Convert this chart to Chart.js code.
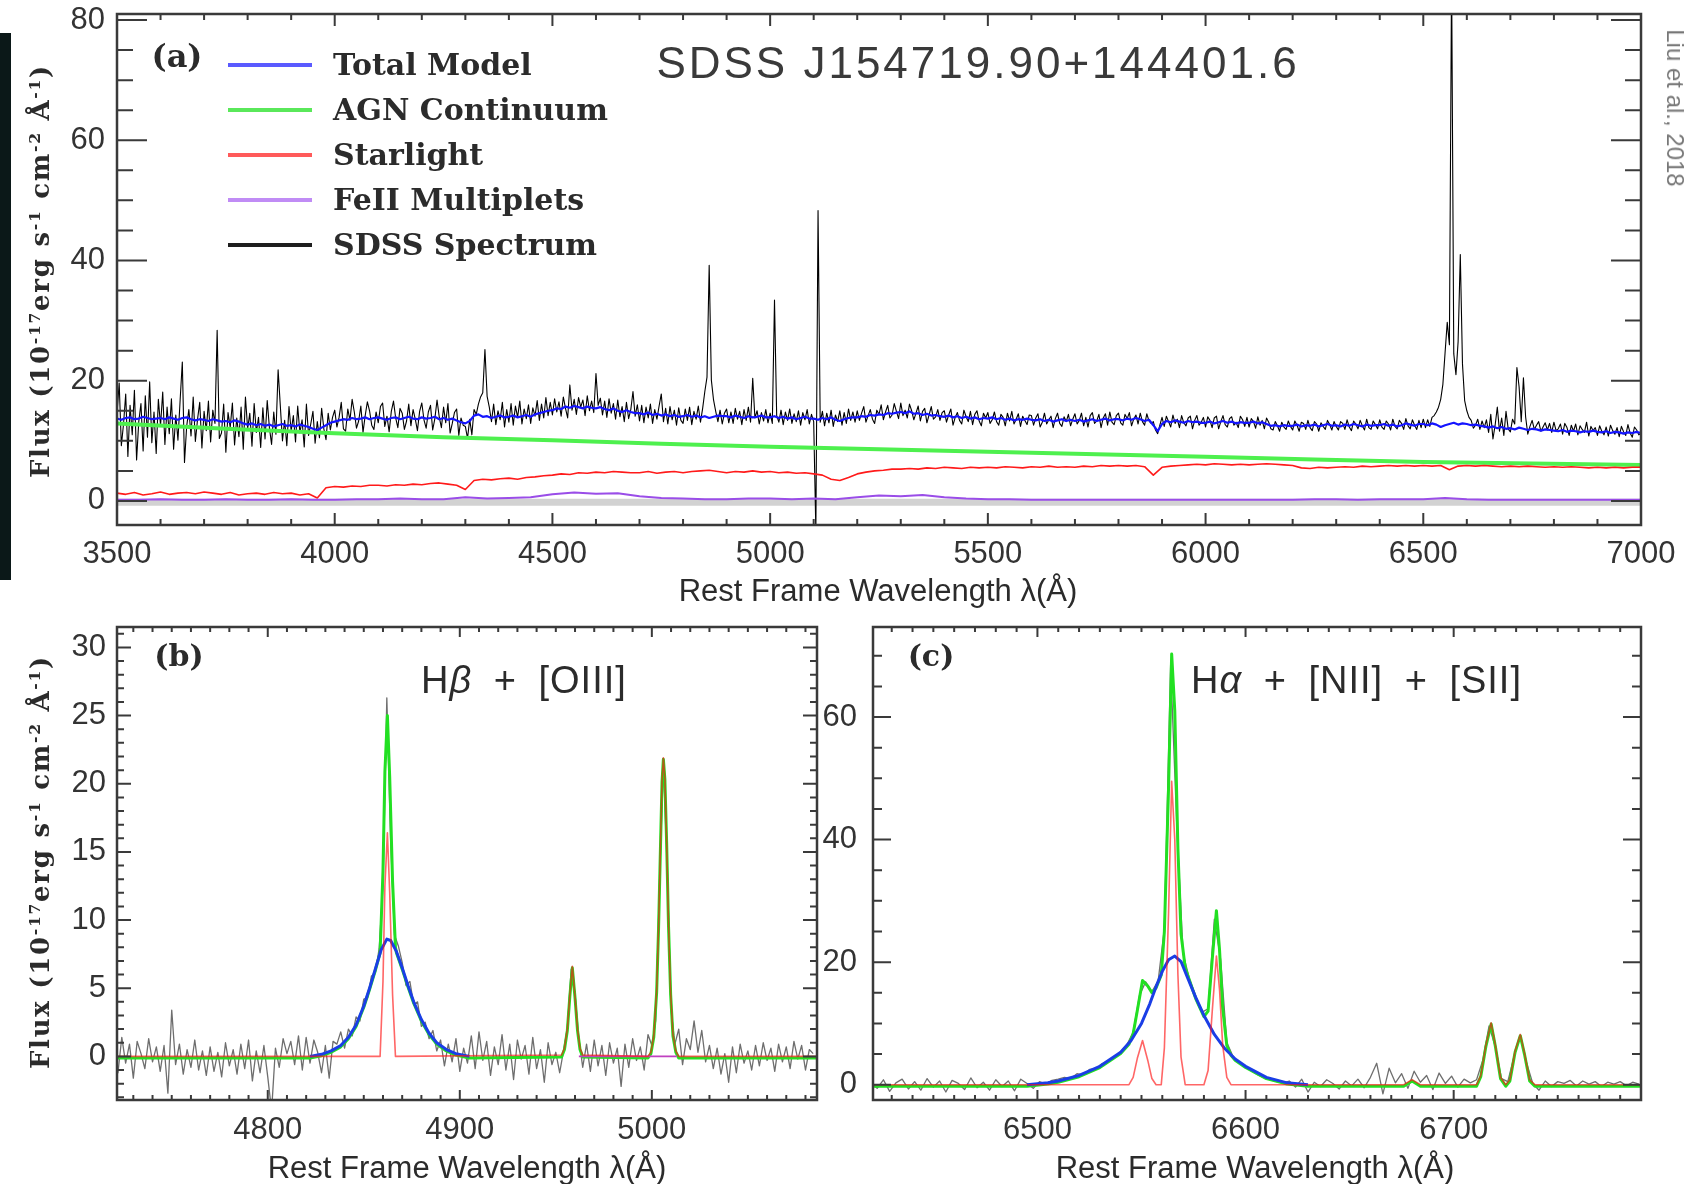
<!DOCTYPE html>
<html>
<head>
<meta charset="utf-8">
<title>SDSS J154719.90+144401.6</title>
<script src="https://cdn.jsdelivr.net/npm/chart.js@4.4.1/dist/chart.umd.min.js"></script>
<style>
  body { margin: 0; background: #fff; }
  #page { position: relative; width: 1701px; height: 1184px; overflow: hidden; background: #fff; }
  canvas { position: absolute; }
  .lbl { position: absolute; white-space: nowrap; line-height: 1; color: #2b2b2b; transform: translate(-50%, -50%); }
  .serif { font-family: "DejaVu Serif", serif; font-weight: bold; }
  .sans { font-family: "Liberation Sans", Arial, sans-serif; }
  .key { position: absolute; left: 228px; width: 84px; height: 4px; }
  .keytxt { font-size: 30px; transform: translate(0, -50%); }
  .ytitle { font-size: 26px; letter-spacing: 1.7px; transform: translate(-50%, -50%) rotate(-90deg); }
  .ytitle sup { font-size: 60%; vertical-align: 0.55em; }
  .xtitle { font-size: 31px; }
  .line { font-size: 38px; letter-spacing: 1px; word-spacing: 10px; transform: translate(0, -50%); }
</style>
</head>
<body>
<div id="page">
  <div style="position:absolute;left:0;top:33px;width:11px;height:547px;background:#0b1818"></div>
  <canvas id="chartA" width="1701" height="610" style="left:0;top:0"></canvas>
  <canvas id="chartB" width="850" height="574" style="left:0;top:610px"></canvas>
  <canvas id="chartC" width="911" height="574" style="left:790px;top:610px"></canvas>

  <div class="lbl serif" style="left:177px;top:56px;font-size:32px">(a)</div>
  <div class="key" style="top:63px;background:#5a5aff"></div>
  <div class="key" style="top:108px;background:#5ae85a"></div>
  <div class="key" style="top:153px;background:#ff5a5a"></div>
  <div class="key" style="top:198px;background:#c08cf5"></div>
  <div class="key" style="top:243px;background:#1e1e1e"></div>
  <div class="lbl serif keytxt" style="left:333px;top:65px">Total Model</div>
  <div class="lbl serif keytxt" style="left:333px;top:110px">AGN Continuum</div>
  <div class="lbl serif keytxt" style="left:333px;top:155px">Starlight</div>
  <div class="lbl serif keytxt" style="left:333px;top:200px">FeII Multiplets</div>
  <div class="lbl serif keytxt" style="left:333px;top:245px">SDSS Spectrum</div>
  <div class="lbl sans" style="left:978px;top:63px;font-size:44px;letter-spacing:3px;color:#3a3a3a">SDSS J154719.90+144401.6</div>
  <div class="lbl sans" style="left:1675px;top:108px;font-size:24px;color:#777;transform:translate(-50%,-50%) rotate(90deg)">Liu et al., 2018</div>
  <div class="lbl serif ytitle" style="left:40px;top:271px">Flux (10<sup>-17</sup>erg s<sup>-1</sup> cm<sup>-2</sup> Å<sup>-1</sup>)</div>
  <div class="lbl sans xtitle" style="left:878px;top:590px">Rest Frame Wavelength λ(Å)</div>

  <div class="lbl serif" style="left:179px;top:656px;font-size:30px">(b)</div>
  <div class="lbl serif" style="left:931px;top:656px;font-size:30px">(c)</div>
  <div class="lbl sans line" style="left:421px;top:680px">H<i>β</i> + [OIII]</div>
  <div class="lbl sans line" style="left:1191px;top:680px">H<i>α</i> + [NII] + [SII]</div>
  <div class="lbl serif ytitle" style="left:40px;top:862px">Flux (10<sup>-17</sup>erg s<sup>-1</sup> cm<sup>-2</sup> Å<sup>-1</sup>)</div>
  <div class="lbl sans xtitle" style="left:467px;top:1167px">Rest Frame Wavelength λ(Å)</div>
  <div class="lbl sans xtitle" style="left:1255px;top:1167px">Rest Frame Wavelength λ(Å)</div>
</div>

<script>
// =========================
// PANEL (a) DATA  (rest-frame wavelength in Å, flux in 1e-17 erg/s/cm2/Å)
// =========================

const aXTicks = [3500, 4000, 4500, 5000, 5500, 6000, 6500, 7000];
const aYTicks = [0, 20, 40, 60, 80];

// SDSS spectrum, sampled every 5 Å from 3500 Å (one row = 100 Å)
const aSpecStart = 3500, aSpecStep = 5;
const aSpectrum = [
  14.5, 19.6, 9.2, 12.8, 17.8, 7.4, 15.9, 11.0, 18.4, 6.8, 13.2, 16.2, 8.3, 17.5, 10.6, 19.8, 9.7, 14.8, 7.9, 16.9,
  12.5, 18.1, 9.4, 15.6, 11.2, 17.0, 8.6, 14.3, 10.1, 16.8, 23.1, 6.4, 12.4, 15.2, 10.8, 17.3, 9.9, 13.6, 16.4, 8.8,
  14.9, 11.7, 16.6, 9.8, 15.1, 12.9, 28.4, 10.4, 11.3, 16.1, 8.1, 14.7, 12.2, 16.3, 9.3, 13.8, 10.7, 15.6, 8.6, 17.3,
  12.0, 14.6, 9.1, 16.2, 11.4, 13.9, 8.9, 15.5, 10.3, 16.7, 12.2, 9.4, 14.8, 11.1, 21.8, 15.9, 10.0, 13.4, 9.2, 15.7,
  11.6, 14.2, 9.8, 15.8, 11.3, 13.5, 9.0, 16.1, 10.9, 12.8, 14.9, 9.6, 13.2, 10.5, 15.4, 12.0, 10.2, 14.6, 11.8, 13.9,
  15.1, 12.3, 13.9, 16.4, 12.0, 11.6, 15.3, 13.4, 16.9, 14.8, 12.1, 13.3, 15.8, 11.4, 14.2, 16.5, 15.0, 12.6, 11.9, 14.8,
  13.0, 15.7, 16.3, 12.4, 14.1, 11.5, 14.9, 16.6, 13.8, 12.2, 15.4, 14.6, 11.9, 13.3, 16.1, 12.5, 15.2, 13.6, 11.7, 14.9,
  16.3, 13.5, 12.1, 14.8, 15.9, 11.8, 13.7, 16.8, 14.0, 12.2, 15.6, 13.0, 16.2, 11.3, 12.9, 14.7, 15.3, 10.9, 13.8, 12.6,
  12.4, 10.4, 13.6, 11.0, 15.2, 14.4, 16.1, 17.3, 18.0, 25.2, 17.4, 15.6, 13.2, 16.1, 12.7, 15.0, 13.5, 16.4, 12.3, 15.2,
  13.1, 16.2, 12.6, 15.8, 13.9, 16.6, 12.8, 15.3, 13.7, 16.0, 12.9, 15.5, 14.1, 16.7, 13.4, 16.1, 13.8, 17.2, 14.2, 16.4,
  14.3, 17.0, 14.8, 16.5, 14.1, 17.3, 15.4, 13.8, 19.3, 15.1, 16.9, 14.4, 17.2, 15.6, 16.8, 14.2, 17.5, 15.0, 16.6, 14.7,
  21.2, 15.9, 17.1, 14.3, 16.6, 13.9, 17.0, 14.6, 16.2, 13.6, 16.8, 14.0, 15.7, 13.2, 16.4, 13.7, 15.2, 18.2, 14.1, 16.0,
  13.3, 15.9, 13.0, 15.6, 13.8, 16.1, 12.9, 15.2, 13.6, 15.8, 17.8, 13.2, 15.4, 12.8, 15.7, 13.5, 15.1, 12.6, 15.5, 13.4,
  12.9, 15.3, 13.4, 15.6, 12.7, 14.9, 13.6, 15.8, 13.1, 15.4, 18.2, 20.6, 39.2, 20.1, 16.8, 14.9, 13.2, 15.1, 12.8, 14.6,
  15.3, 13.0, 14.8, 12.9, 15.4, 13.6, 14.9, 12.7, 15.2, 13.4, 15.6, 13.1, 20.4, 13.8, 15.0, 12.8, 14.7, 13.3, 15.2, 13.0,
  14.6, 12.9, 33.4, 14.2, 13.1, 15.1, 12.7, 14.8, 13.4, 15.3, 12.9, 14.5, 13.2, 15.0, 12.6, 14.7, 13.5, 15.2, 12.8, 14.4,
  13.2, -5.0, 48.3, 13.1, 14.9, 12.5, 14.6, 13.0, 15.1, 12.4, 14.3, 13.2, 15.0, 12.6, 14.7, 12.9, 15.3, 13.4, 14.8, 13.1,
  15.0, 13.4, 14.6, 15.7, 13.1, 14.2, 15.2, 13.6, 12.9, 15.1, 14.4, 16.0, 13.5, 14.8, 15.9, 13.8, 14.3, 16.2, 14.9, 13.7,
  16.3, 14.2, 15.1, 13.8, 16.1, 15.0, 13.5, 14.6, 15.8, 13.3, 14.9, 15.4, 13.0, 14.3, 15.7, 13.6, 14.0, 15.2, 13.4, 14.7,
  15.0, 13.1, 14.3, 15.3, 12.6, 13.9, 14.7, 13.4, 12.8, 15.1, 14.0, 13.2, 14.9, 12.7, 14.4, 15.0, 13.3, 12.5, 14.6, 13.8,
  14.7, 12.9, 13.5, 14.8, 13.2, 12.6, 14.4, 13.9, 12.5, 14.6, 13.3, 14.9, 12.8, 13.6, 14.5, 12.4, 14.1, 13.4, 12.7, 14.3,
  14.2, 12.6, 13.8, 14.5, 12.3, 13.1, 14.6, 12.8, 13.5, 14.1, 12.2, 13.7, 14.6, 12.9, 12.4, 14.0, 13.2, 14.4, 12.5, 13.6,
  14.5, 12.8, 13.4, 14.6, 12.5, 13.9, 12.3, 14.2, 14.7, 12.9, 13.3, 14.4, 12.2, 13.8, 14.5, 12.6, 14.8, 13.1, 12.7, 14.2,
  14.6, 13.0, 12.6, 14.4, 13.7, 14.7, 12.5, 13.6, 14.3, 12.8, 14.6, 13.2, 12.6, 14.5, 13.3, 12.9, 13.2, 11.8, 11.2, 12.6,
  13.9, 12.4, 14.1, 13.2, 12.3, 14.3, 12.9, 13.6, 12.2, 14.2, 13.0, 12.5, 13.8, 14.1, 12.0, 13.4, 14.2, 12.6, 13.1, 13.9,
  12.3, 14.0, 13.4, 12.2, 13.8, 14.1, 12.0, 13.2, 14.2, 12.7, 12.3, 13.7, 14.0, 12.6, 13.1, 12.2, 14.1, 13.5, 12.4, 13.9,
  12.3, 13.7, 13.2, 12.1, 14.0, 12.6, 13.4, 12.0, 13.8, 13.1, 12.0, 11.8, 13.2, 12.5, 11.6, 13.1, 12.3, 11.9, 13.3, 12.4,
  11.8, 13.3, 12.6, 11.6, 13.1, 12.9, 11.9, 13.4, 12.2, 11.7, 13.2, 12.8, 11.6, 13.0, 12.4, 11.9, 13.4, 12.7, 11.8, 13.2,
  12.4, 11.8, 13.2, 12.9, 11.9, 13.5, 12.3, 11.7, 13.3, 12.8, 12.0, 13.4, 12.5, 11.8, 13.6, 12.2, 11.9, 13.3, 12.7, 12.0,
  13.5, 12.3, 11.9, 13.3, 12.8, 11.8, 13.6, 12.4, 12.0, 13.4, 12.9, 11.9, 13.7, 12.5, 12.0, 13.5, 12.6, 11.9, 13.4, 12.2,
  13.6, 12.2, 13.5, 12.4, 13.9, 14.2, 14.8, 15.6, 16.9, 19.4, 24.6, 29.7, 26.0, 88.0, 24.5, 21.0, 26.5, 41.0, 22.8, 16.7,
  15.0, 13.9, 13.4, 12.1, 12.6, 13.6, 11.9, 13.3, 12.2, 13.5, 11.4, 14.4, 10.3, 12.6, 15.6, 11.6, 13.8, 10.9, 14.9, 12.0,
  11.5, 13.6, 12.8, 22.2, 19.0, 13.2, 20.5, 14.0, 11.1, 12.4, 13.4, 11.9, 12.6, 13.2, 11.6, 12.3, 13.0, 11.8, 12.9, 11.4,
  13.1, 11.7, 12.0, 12.8, 11.1, 12.9, 12.2, 10.9, 12.6, 11.6, 12.8, 11.0, 12.5, 11.9, 11.4, 13.1, 10.8, 12.4, 11.7, 12.2,
  10.9, 12.5, 11.6, 11.0, 12.3, 10.8, 12.6, 11.7, 11.1, 12.2, 10.7, 12.4, 11.5, 10.9, 12.7, 11.3, 10.6, 12.3, 11.8, 11.0,
  11.3
];

// total model, every 10 Å from 3500 Å
const aModelStart = 3500, aModelStep = 10;
const aTotalModel = [
  13.7, 13.5, 13.8, 13.9, 13.6, 13.7, 14.0, 13.8, 13.6, 13.7,
  13.8, 13.6, 13.9, 13.7, 13.5, 13.8, 13.9, 13.6, 13.4, 13.6,
  13.5, 13.3, 13.6, 13.4, 13.2, 13.3, 13.1, 13.4, 13.2, 12.9,
  12.7, 12.9, 12.6, 12.8, 12.5, 12.7, 12.4, 12.6, 12.8, 12.5,
  12.6, 12.4, 12.7, 12.5, 12.3, 12.0, 11.8, 12.2, 12.6, 13.0,
  13.2, 13.4, 13.6, 13.5, 13.8, 13.6, 13.7, 13.9, 13.6, 13.8,
  13.9, 13.7, 13.5, 13.8, 13.9, 13.6, 13.8, 14.0, 13.7, 13.6,
  13.9, 13.7, 13.8, 14.0, 13.6, 13.8, 13.5, 13.7, 13.4, 13.1,
  12.9, 13.3, 14.2, 14.4, 14.0, 14.1, 13.8, 14.0, 14.2, 13.9,
  14.0, 14.2, 13.9, 14.1, 14.3, 14.0, 14.4, 14.6, 14.8, 15.0,
  15.1, 15.4, 15.3, 15.7, 15.5, 15.8, 15.6, 15.4, 15.7, 15.5,
  15.4, 15.6, 15.3, 15.1, 15.4, 15.0, 14.8, 15.1, 14.8, 14.6,
  14.6, 14.4, 14.7, 14.3, 14.5, 14.2, 14.4, 14.1, 14.3, 14.0,
  14.1, 14.3, 14.0, 14.2, 13.9, 14.1, 13.8, 14.0, 14.2, 14.1,
  14.1, 13.9, 14.2, 14.0, 13.8, 14.1, 13.9, 14.0, 14.2, 13.9,
  13.9, 14.1, 13.8, 14.0, 13.7, 13.9, 13.6, 13.8, 14.0, 13.7,
  13.7, 13.5, 13.8, 13.6, 13.9, 13.5, 13.3, 13.6, 13.8, 13.9,
  13.9, 14.1, 14.0, 14.3, 14.2, 14.4, 14.3, 14.6, 14.5, 14.7,
  14.8, 14.6, 14.9, 14.5, 14.6, 14.3, 14.5, 14.2, 14.3, 14.1,
  14.0, 14.2, 13.9, 14.1, 13.8, 14.0, 13.7, 13.9, 13.6, 13.8,
  13.7, 13.9, 13.6, 13.8, 13.5, 13.7, 13.4, 13.6, 13.5, 13.7,
  13.5, 13.4, 13.6, 13.3, 13.5, 13.2, 13.4, 13.6, 13.3, 13.5,
  13.3, 13.5, 13.2, 13.4, 13.6, 13.3, 13.5, 13.7, 13.4, 13.6,
  13.6, 13.4, 13.7, 13.5, 13.8, 13.6, 13.3, 13.5, 12.6, 11.6,
  12.8, 13.3, 13.1, 13.4, 13.2, 13.0, 13.3, 13.1, 13.2, 13.0,
  13.0, 13.2, 12.9, 13.1, 13.3, 13.0, 13.2, 12.9, 13.1, 13.0,
  13.0, 13.2, 12.9, 13.1, 12.8, 12.5, 12.6, 12.4, 12.6, 12.5,
  12.5, 12.7, 12.4, 12.6, 12.5, 12.7, 12.4, 12.6, 12.8, 12.5,
  12.6, 12.4, 12.7, 12.5, 12.8, 12.6, 12.4, 12.7, 12.5, 12.6,
  12.6, 12.8, 12.5, 12.7, 12.4, 12.6, 12.9, 12.7, 12.5, 12.8,
  12.8, 12.6, 12.9, 12.7, 12.3, 12.6, 12.8, 13.0, 12.7, 12.9,
  12.8, 12.6, 12.7, 12.5, 12.4, 12.2, 12.4, 12.1, 12.3, 12.0,
  12.1, 11.9, 12.2, 12.0, 11.8, 12.0, 11.9, 11.7, 11.9, 11.8,
  11.7, 11.6, 11.8, 11.5, 11.7, 11.6, 11.4, 11.6, 11.5, 11.7,
  11.5, 11.4, 11.6, 11.3, 11.5, 11.4, 11.2, 11.4, 11.3, 11.5,
  11.3
];

// AGN power-law continuum
const aAgnWave = [3500, 3750, 4000, 4250, 4500, 4750, 5000, 5250, 5500, 5750, 6000, 6250, 6500, 6750, 7000];
const aAgnFlux = [12.9, 12.0, 11.25, 10.6, 10.1, 9.5, 9.0, 8.6, 8.2, 7.75, 7.35, 6.9, 6.5, 6.25, 6.0];

// host starlight, every 20 Å from 3500 Å
const aStarStart = 3500, aStarStep = 20;
const aStarlight = [
  1.3, 1.1, 1.4, 1.0, 1.2, 1.5, 1.1, 1.3, 1.4, 1.2,
  1.5, 1.3, 1.1, 1.4, 1.0, 1.2, 1.3, 1.1, 1.4, 1.2,
  1.3, 1.0, 1.2, 0.5, 2.2, 2.4, 2.3, 2.5, 2.4, 2.6,
  2.6, 2.5, 2.7, 2.6, 2.8, 2.7, 2.9, 3.0, 2.8, 2.6,
  1.9, 3.4, 3.6, 3.5, 3.7, 3.8, 3.6, 3.9, 4.0, 4.2,
  4.3, 4.5, 4.4, 4.7, 4.6, 4.8, 4.7, 4.9, 4.8, 4.7,
  4.7, 4.9, 4.6, 4.8, 4.9, 4.7, 4.9, 5.0, 5.1, 4.9,
  4.7, 4.9, 4.8, 5.0, 4.8, 4.9, 4.7, 4.8, 4.6, 4.7,
  4.5, 4.3, 3.6, 3.4, 3.9, 4.5, 4.8, 5.0, 5.1, 5.3,
  5.3, 5.4, 5.3, 5.5, 5.4, 5.6, 5.5, 5.4, 5.6, 5.5,
  5.6, 5.5, 5.7, 5.6, 5.5, 5.7, 5.6, 5.8, 5.6, 5.7,
  5.6, 5.8, 5.7, 5.9, 5.8, 5.9, 5.8, 5.9, 5.7, 4.3,
  5.6, 5.8, 5.9, 6.0, 6.1, 6.0, 6.2, 6.1, 6.0, 6.1,
  6.0, 6.1, 6.2, 6.1, 6.0, 5.9, 5.5, 5.4, 5.6, 5.5,
  5.6, 5.7, 5.6, 5.8, 5.7, 5.8, 5.9, 5.8, 5.9, 5.8,
  5.9, 5.8, 5.9, 5.2, 5.8, 5.9, 5.8, 5.9, 5.8, 5.7,
  5.8, 5.7, 5.8, 5.7, 5.6, 5.7, 5.6, 5.7, 5.6, 5.5,
  5.6, 5.5, 5.6, 5.5, 5.6, 5.6
];

// FeII multiplets, every 50 Å from 3500 Å
const aFeStart = 3500, aFeStep = 50;
const aFeII = [
  0.2, 0.2, 0.3, 0.2, 0.2, 0.3, 0.2, 0.2, 0.3, 0.2,
  0.2, 0.3, 0.3, 0.4, 0.3, 0.3, 0.6, 0.4, 0.5, 0.6,
  1.1, 1.4, 1.2, 1.3, 0.8, 0.5, 0.4, 0.3, 0.3, 0.4,
  0.4, 0.3, 0.4, 0.3, 0.6, 0.9, 0.8, 1.0, 0.6, 0.4,
  0.3, 0.3, 0.2, 0.2, 0.2, 0.2, 0.2, 0.2, 0.2, 0.2,
  0.2, 0.2, 0.2, 0.2, 0.2, 0.3, 0.3, 0.2, 0.3, 0.3,
  0.3, 0.5, 0.3, 0.2, 0.2, 0.2, 0.2, 0.2, 0.2, 0.2,
  0.2
];

// grey zero band under the FeII curve
const aZeroWave = [3500, 7000];
const aZeroFlux = [-0.2, -0.2];


// =========================
// PANEL (b) DATA  Hβ + [OIII]
// =========================

const bXTicks = [4800, 4900, 5000];
const bYTicks = [0, 5, 10, 15, 20, 25, 30];

// continuum-subtracted spectrum, every 2 Å from 4720 Å
const bSpecStart = 4720, bSpecStep = 2;
const bSpectrum = [
  0.6, -1.2, 1.4, -0.5, 0.9, -1.6, 1.1, 0.2, -0.9, 1.3, -0.4, 0.7, -1.1, 0.8, -2.7, 3.4, -0.6, 0.9, -1.3, 0.5, -0.8, 1.2, -1.0, 0.4, -1.4,
  0.7, -1.1, 0.3, -1.5, 1.0, -0.7, 0.5, -1.3, 0.9, -0.9, 1.2, -1.8, 0.4, -1.2, 0.8, -1.5, -4.0, 0.6, -0.8, 1.3, 0.2, 1.1, -0.6, 1.5, -1.0,
  1.4, -0.5, 1.2, 0.3, -1.2, 0.8, -1.6, 1.1, 0.9, 1.8, 0.6, 2.0, 1.5, 2.9, 2.6, 4.2, 4.3, 5.9, 6.1, 7.9, 12.5, 26.3, 15.8, 8.9, 8.1,
  6.9, 5.2, 5.5, 3.8, 4.0, 2.2, 2.5, 1.3, 1.9, 0.4, 1.2, -0.7, 0.9, -0.4, 1.3, -1.1, 0.6, -0.5, 1.5, -0.9, 1.8, -0.3, 1.1, -1.4, 0.7,
  -0.6, 1.6, -1.0, 0.9, -1.7, 1.2, -0.2, 0.8, -1.3, 1.4, -0.9, 0.5, -1.9, 1.0, -0.6, 0.3, -1.2, 0.4, 2.1, 6.4, 4.6, 1.3, -0.8, 0.9, -1.1,
  1.2, -0.7, 0.8, -1.4, 1.0, -0.5, 0.6, -2.2, 0.9, -0.8, 1.3, -0.3, 0.7, -1.0, 1.6, 0.8, 2.6, 12.8, 21.5, 13.9, 3.4, 0.9, 2.0, -0.6, 1.3,
  0.5, 2.6, 0.3, 1.9, -0.4, 0.8, -0.9, 0.6, -1.3, 0.2, -1.9, 0.7, -1.2, 0.9, -0.5, 0.4, -1.0, 0.8, -0.7, 1.0, -0.3, 0.6, -1.1, 0.9, -0.4,
  0.7, -0.9, 1.1, -0.2, 0.8, -1.0, 0.5, 0.2
];

// broad Hβ component
const bBroadWave = [4822, 4828, 4833, 4838, 4842, 4846, 4850, 4853, 4856, 4859, 4862, 4864, 4867, 4870, 4873, 4876, 4880, 4884, 4888, 4893, 4898, 4905];
const bBroadFlux = [0, 0.15, 0.4, 0.8, 1.4, 2.3, 3.7, 5.0, 6.4, 7.8, 8.6, 8.5, 7.7, 6.5, 5.2, 4.0, 2.7, 1.7, 1.0, 0.5, 0.2, 0];

// narrow components (Hβ, [OIII] 4959, [OIII] 5007) on a zero baseline
const bNarrowWave = [4720, 4858.5, 4860, 4861, 4862.3, 4863.5, 4865, 4866.5,
  4953, 4954.5, 4956, 4957.3, 4958.6, 4960, 4961.3, 4962.6, 4964,
  4998, 4999.5, 5001, 5002.5, 5003.5, 5004.5, 5005.3, 5006, 5006.8, 5007.7, 5008.7, 5009.8, 5011, 5012.5, 5014, 5086];
const bNarrowFlux = [0, 0, 5.5, 12.5, 16.4, 12.0, 4.5, 0,
  0.1, 0.6, 2.0, 4.5, 6.6, 4.4, 2.0, 0.6, 0.1,
  0, 0.3, 1.5, 4.8, 9.5, 15.5, 20.2, 21.9, 20.4, 15.8, 9.6, 4.6, 1.6, 0.4, 0, 0];

// total line model
const bTotalWave = [4720, 4822, 4828, 4833, 4838, 4842, 4846, 4850, 4853, 4856, 4858.5, 4860, 4861, 4862.3, 4863.5, 4865, 4866.5,
  4867, 4870, 4873, 4876, 4880, 4884, 4888, 4893, 4898, 4905,
  4953, 4954.5, 4956, 4957.3, 4958.6, 4960, 4961.3, 4962.6, 4964,
  4998, 4999.5, 5001, 5002.5, 5003.5, 5004.5, 5005.3, 5006, 5006.8, 5007.7, 5008.7, 5009.8, 5011, 5012.5, 5014, 5086];
const bTotalFlux = [-0.12, -0.12, 0.05, 0.3, 0.7, 1.3, 2.2, 3.6, 4.9, 6.3, 7.6, 13.6, 20.9, 25.0, 20.5, 12.8, 8.0,
  7.6, 6.4, 5.1, 3.9, 2.6, 1.6, 0.9, 0.4, 0.1, -0.12,
  -0.05, 0.5, 1.9, 4.4, 6.5, 4.3, 1.9, 0.5, -0.05,
  -0.12, 0.2, 1.4, 4.7, 9.4, 15.4, 20.1, 21.8, 20.3, 15.7, 9.5, 4.5, 1.5, 0.3, -0.12, -0.12];

const bFeWave = [4962, 5013];
const bFeFlux = [0, 0];


// =========================
// PANEL (c) DATA  Hα + [NII] + [SII]
// =========================

const cXTicks = [6500, 6600, 6700];
const cYTicks = [0, 20, 40, 60];

// continuum-subtracted spectrum, every 3 Å from 6420 Å
const cSpecStart = 6420, cSpecStep = 3;
const cSpectrum = [
  0.4, -0.6, 0.8, -1.1, 0.3, 0.9, -0.7, 0.5, -0.9, 1.0, -0.4, 0.6, -1.2, 0.7, 0.2, -0.8, 1.1, -0.5, 0.4, -0.9,
  0.8, -0.3, 0.6, -1.0, 0.9, 0.2, -0.6, 0.5, 0.1, 0.7, 0.9, 1.2, 1.0, 1.8, 1.6, 2.5, 2.6, 3.4, 3.9, 4.5,
  5.4, 6.5, 8.6, 14.5, 16.8, 15.2, 16.9, 25.5, 68.5, 42.0, 21.4, 17.3, 14.5, 11.8, 12.4, 27.0, 20.5, 6.9, 4.6, 3.5,
  2.9, 2.2, 1.6, 1.1, 0.8, 0.5, 0.3, 0.6, -0.4, 0.9, -1.2, 0.4, -0.3, 0.8, 0.2, -0.7, 0.6, -0.2, 0.9, -0.5,
  1.2, 3.5, -1.5, 2.7, 0.3, 1.8, -0.6, 2.2, 0.4, 1.5, -0.8, 1.9, 0.2, 1.4, -0.4, 0.9, 0.3, 0.8, 4.0, 9.6,
  6.2, 1.0, 0.5, 4.6, 8.0, 3.6, 0.2, -0.9, 0.6, -0.3, 0.5, 0.2, 0.7, -0.2, 0.6, 0.1, 0.5, -0.3, 0.4, 0.1,
  0.5, -0.2, 0.4, 0.1
];

// broad Hα component
const cBroadWave = [6495, 6505, 6510, 6520, 6530, 6540, 6545, 6550, 6554, 6557, 6560, 6563, 6566, 6569, 6572, 6576, 6580, 6585, 6590, 6595, 6600, 6610, 6620, 6630];
const cBroadFlux = [0, 0.3, 0.6, 1.5, 3.0, 5.3, 7.2, 10.0, 13.2, 16.0, 18.5, 20.4, 21.0, 20.1, 17.6, 14.3, 11.3, 8.2, 5.9, 4.2, 3.0, 1.2, 0.3, 0];

// narrow components on a zero baseline
const cNarrowWave = [6421, 6544, 6546, 6548, 6550.5, 6553, 6555, 6557, 6559.5, 6561, 6563, 6564.5, 6566, 6567.5, 6569, 6571,
  6580, 6582, 6584, 6586, 6587.5, 6589, 6591, 6593, 6676, 6680, 6684,
  6711, 6713, 6715.5, 6718, 6720, 6722.5, 6725, 6727, 6729.5, 6732, 6734, 6736.5, 6739, 6790];
const cNarrowFlux = [0, 0, 1.2, 4.3, 7.2, 4.0, 1.0, 0, 0, 6.0, 28.0, 49.5, 40.0, 18.0, 4.5, 0,
  0, 2.3, 12.0, 21.0, 15.5, 6.5, 1.2, 0, 0, 0.8, 0,
  0, 1.5, 6.5, 10.1, 6.5, 1.2, 0, 0.8, 5.5, 8.2, 5.2, 0.8, 0, 0];

// total line model
const cTotalWave = [6421, 6495, 6505, 6510, 6520, 6530, 6540, 6544, 6546, 6548, 6550.5, 6553, 6555, 6557, 6559.5, 6561, 6563, 6564.5,
  6566, 6567.5, 6569, 6571, 6576, 6580, 6582, 6584, 6586, 6587.5, 6589, 6591, 6593, 6595, 6600, 6610, 6620, 6630,
  6676, 6680, 6684, 6711, 6713, 6715.5, 6718, 6720, 6722.5, 6725, 6727, 6729.5, 6732, 6734, 6736.5, 6739, 6790];
const cTotalFlux = [-0.25, -0.25, 0.1, 0.4, 1.3, 2.8, 5.1, 6.6, 8.3, 12.1, 17.0, 16.1, 15.0, 15.8, 17.9, 25.0, 48.4, 70.3,
  61.0, 38.5, 24.6, 19.1, 14.1, 11.1, 12.0, 20.5, 28.4, 22.0, 12.5, 6.4, 4.8, 4.0, 2.8, 1.0, 0.1, -0.25,
  -0.25, 0.6, -0.25, -0.25, 1.3, 6.3, 9.9, 6.3, 1.0, -0.25, 0.6, 5.3, 8.0, 5.0, 0.6, -0.25, -0.25];


// =========================
// HELPERS
// =========================

function onGrid(start, step, flux) {
  return flux.map((f, i) => ({ x: start + i * step, y: f }));
}

function pairs(wave, flux) {
  return flux.map((f, i) => ({ x: wave[i], y: f }));
}

function isMultiple(v, step) {
  const r = v / step;
  return Math.abs(r - Math.round(r)) < 1e-6;
}

function line(data, color, width, order) {
  return { data, borderColor: color, borderWidth: width, order, clip: 0, fill: false };
}

// IDL style frame: box on all four sides with inward major / minor ticks
const frameTicks = {
  id: "frameTicks",
  afterDatasetsDraw(chart, args, o) {
    const { ctx, chartArea: a } = chart;
    const x = chart.scales.x, y = chart.scales.y;
    ctx.save();
    ctx.strokeStyle = o.color;
    ctx.lineWidth = o.tickWidth;
    ctx.beginPath();
    for (let v = Math.ceil(x.min / o.xMinor) * o.xMinor; v <= x.max; v += o.xMinor) {
      const p = x.getPixelForValue(v);
      const len = isMultiple(v, o.xMajor) ? o.xLen[0] : o.xLen[1];
      ctx.moveTo(p, a.bottom); ctx.lineTo(p, a.bottom - len);
      ctx.moveTo(p, a.top); ctx.lineTo(p, a.top + len);
    }
    for (let v = Math.ceil(y.min / o.yMinor) * o.yMinor; v <= y.max; v += o.yMinor) {
      const p = y.getPixelForValue(v);
      const len = isMultiple(v, o.yMajor) ? o.yLen[0] : o.yLen[1];
      ctx.moveTo(a.left, p); ctx.lineTo(a.left + len, p);
      ctx.moveTo(a.right, p); ctx.lineTo(a.right - len, p);
    }
    ctx.stroke();
    ctx.lineWidth = o.frameWidth;
    ctx.strokeRect(a.left, a.top, a.right - a.left, a.bottom - a.top);
    ctx.restore();
  }
};

function buildChart(id, datasets, cfg) {
  const tickFont = { family: "Liberation Sans", size: 31 };
  return new Chart(document.getElementById(id), {
    type: "line",
    data: { datasets },
    options: {
      responsive: false,
      animation: false,
      events: [],
      parsing: false,
      layout: { padding: cfg.padding },
      elements: { point: { radius: 0 }, line: { tension: 0, borderJoinStyle: "round" } },
      plugins: { legend: { display: false }, tooltip: { enabled: false }, frameTicks: cfg.frame },
      scales: {
        x: {
          type: "linear", min: cfg.xRange[0], max: cfg.xRange[1],
          grid: { display: false, drawTicks: false }, border: { display: false },
          afterBuildTicks: s => { s.ticks = cfg.xTicks.map(v => ({ value: v })); },
          ticks: { font: tickFont, color: "#333", padding: cfg.xPad, maxRotation: 0, autoSkip: false, callback: v => String(v) },
          afterFit: s => { s.height = cfg.xHeight; s.paddingLeft = 0; s.paddingRight = 0; }
        },
        y: {
          type: "linear", min: cfg.yRange[0], max: cfg.yRange[1],
          grid: { display: false, drawTicks: false }, border: { display: false },
          afterBuildTicks: s => { s.ticks = cfg.yTicks.map(v => ({ value: v })); },
          ticks: { font: tickFont, color: "#333", padding: cfg.yPad, autoSkip: false, callback: v => String(v) },
          afterFit: s => { s.width = cfg.yWidth; s.paddingTop = 0; s.paddingBottom = 0; }
        }
      }
    },
    plugins: [frameTicks]
  });
}


// =========================
// RENDER
// =========================

buildChart("chartA", [
  line(onGrid(aModelStart, aModelStep, aTotalModel), "#1414ff", 2.2, 0),
  line(onGrid(aFeStart, aFeStep, aFeII), "#9a4de8", 2, 1),
  line(onGrid(aStarStart, aStarStep, aStarlight), "#ff1a1a", 1.6, 2),
  line(pairs(aAgnWave, aAgnFlux), "#4ef04e", 4, 3),
  line(onGrid(aSpecStart, aSpecStep, aSpectrum), "#000000", 1.1, 4),
  line(pairs(aZeroWave, aZeroFlux), "#d2d2d2", 7, 5)
], {
  padding: { left: 0, top: 14, right: 60, bottom: 0 },
  xRange: [3500, 7000], yRange: [-4, 81],
  xTicks: aXTicks, yTicks: aYTicks,
  xHeight: 85, yWidth: 117, xPad: 11, yPad: 12,
  frame: { color: "#3a3a3a", tickWidth: 2, frameWidth: 2.5,
           xMinor: 100, xMajor: 500, yMinor: 5, yMajor: 20, xLen: [12, 6], yLen: [30, 16] }
});

buildChart("chartB", [
  line(pairs(bNarrowWave, bNarrowFlux), "rgba(255,20,20,0.65)", 1.6, 0),
  line(pairs(bFeWave, bFeFlux), "#c040c0", 1.6, 1),
  line(pairs(bBroadWave, bBroadFlux), "#1a3ee6", 3, 2),
  line(pairs(bTotalWave, bTotalFlux), "#22e022", 3, 3),
  line(onGrid(bSpecStart, bSpecStep, bSpectrum), "#6e6e6e", 1.3, 4)
], {
  padding: { left: 0, top: 17, right: 33, bottom: 0 },
  xRange: [4721.5, 5086], yRange: [-3.2, 31.5],
  xTicks: bXTicks, yTicks: bYTicks,
  xHeight: 84, yWidth: 117, xPad: 12, yPad: 11,
  frame: { color: "#3a3a3a", tickWidth: 2, frameWidth: 2.5,
           xMinor: 10, xMajor: 100, yMinor: 1, yMajor: 5, xLen: [10, 5], yLen: [14, 7] }
});

buildChart("chartC", [
  line(pairs(cNarrowWave, cNarrowFlux), "rgba(255,20,20,0.65)", 1.6, 0),
  line(pairs(cBroadWave, cBroadFlux), "#1a3ee6", 3, 1),
  line(pairs(cTotalWave, cTotalFlux), "#22e022", 3, 2),
  line(onGrid(cSpecStart, cSpecStep, cSpectrum), "#6e6e6e", 1.3, 3)
], {
  padding: { left: 0, top: 17, right: 60, bottom: 0 },
  xRange: [6421, 6790], yRange: [-2.5, 74.7],
  xTicks: cXTicks, yTicks: cYTicks,
  xHeight: 84, yWidth: 83, xPad: 12, yPad: 16,
  frame: { color: "#3a3a3a", tickWidth: 2, frameWidth: 2.5,
           xMinor: 10, xMajor: 100, yMinor: 5, yMajor: 20, xLen: [10, 5], yLen: [18, 9] }
});
</script>
</body>
</html>
